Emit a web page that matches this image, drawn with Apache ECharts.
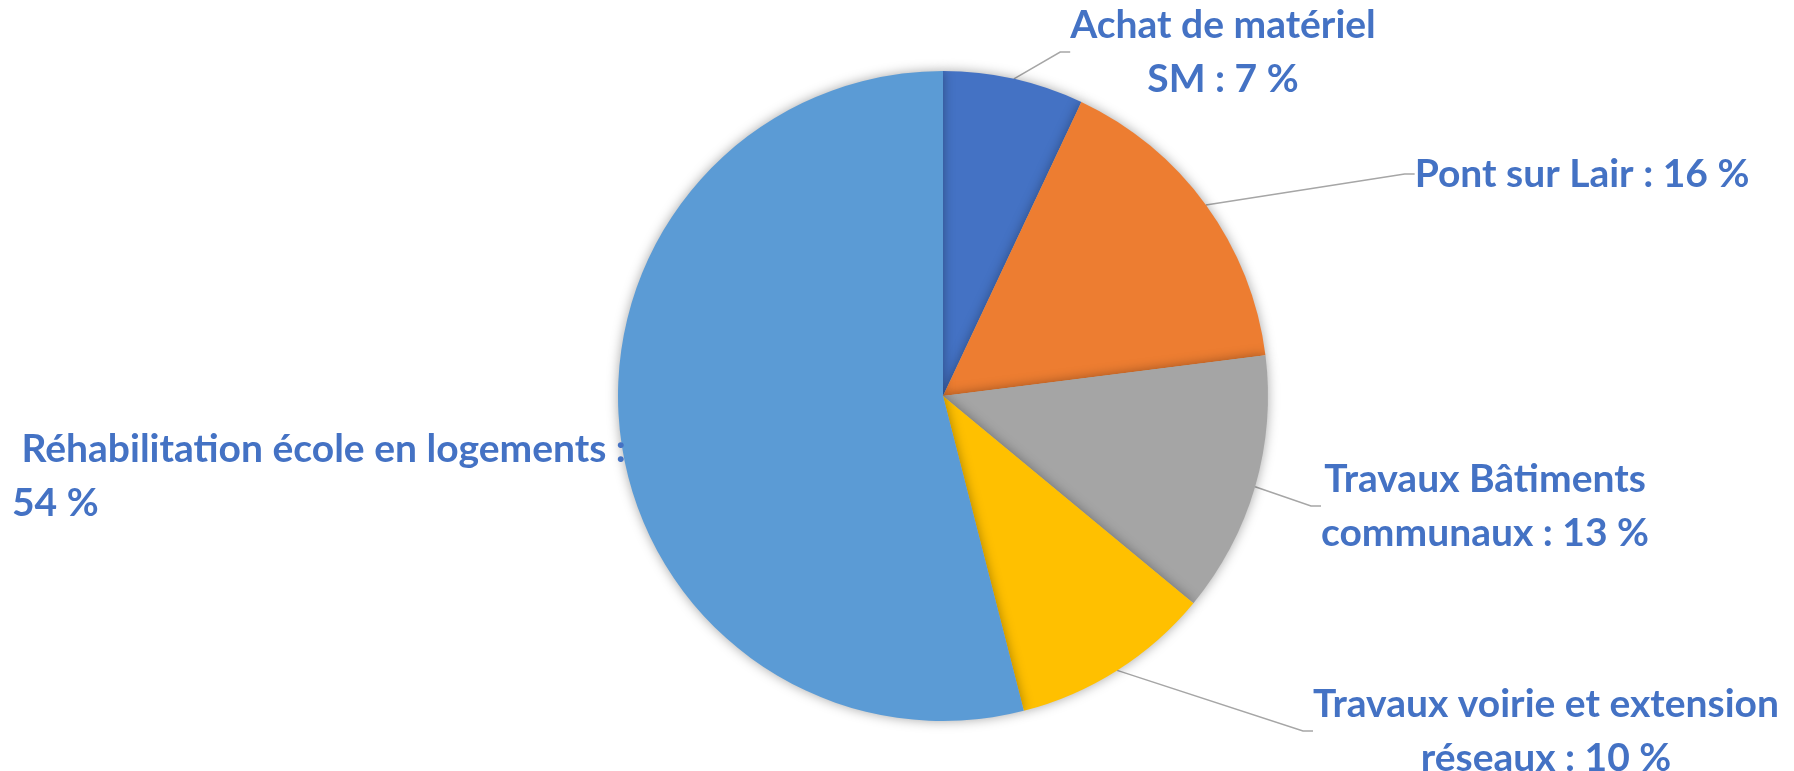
<!DOCTYPE html>
<html>
<head>
<meta charset="utf-8">
<script src="https://cdn.jsdelivr.net/npm/echarts@6/dist/echarts.min.js"></script>
<style>
  html, body { margin: 0; padding: 0; background: #fff; }
  #chart { width: 1794px; height: 771px; }
</style>
</head>
<body>
<div id="chart"></div>
<script>
// data
let categories = ['Achat de matériel\nSM', 'Pont sur Lair', 'Travaux Bâtiments\ncommunaux', 'Travaux voirie et extension\nréseaux', ' Réhabilitation école en logements :\n']
let values = [7, 16, 13, 10, 54]
let colors = ['#4472C4', '#ED7D31', '#A5A5A5', '#FFC000', '#5B9BD5']

// where each label sits (x, y centre, align)
let labelPos = [
    [1223, 52, 'center'],
    [1582, 174, 'center'],
    [1485, 506, 'center'],
    [1546, 731, 'center'],
    [12, 476, 'left']
]

let chart = echarts.init(document.getElementById('chart'))

let seriesData = []
for (let i = 0; i < values.length; i++) {
    seriesData.push({
        name: categories[i],
        value: values[i],
        itemStyle: { color: colors[i] },
        labelLine: { show: i !== 4 },
        label: { align: labelPos[i][2] }
    })
}

const option = {
    backgroundColor: '#fff',
    animation: false,
    series: [
        {
            type: 'pie',
            center: [943, 396],
            radius: 325,
            startAngle: 90,
            clockwise: true,
            data: seriesData,
            avoidLabelOverlap: false,
            itemStyle: {
                shadowBlur: 12,
                shadowColor: 'rgba(0,0,0,0.35)'
            },
            label: {
                show: true,
                position: 'outside',
                overflow: 'none',
                formatter: function (p) {
                    let n = p.name
                    if (n.endsWith('\n')) return n + p.value + ' %'
                    return n + ' : ' + p.value + ' %'
                },
                color: '#4472C4',
                fontFamily: 'Lato',
                fontWeight: 'bold',
                fontSize: 39,
                lineHeight: 54
            },
            labelLine: {
                show: true,
                length: 20,
                length2: 10,
                lineStyle: { color: '#A6A6A6', width: 1.5 }
            },
            labelLayout: function (params) {
                let p = labelPos[params.dataIndex]
                return {
                    x: p[0],
                    y: p[1],
                    align: p[2],
                    verticalAlign: 'middle'
                }
            }
        }
    ]
}
chart.setOption(option)
</script>
</body>
</html>
